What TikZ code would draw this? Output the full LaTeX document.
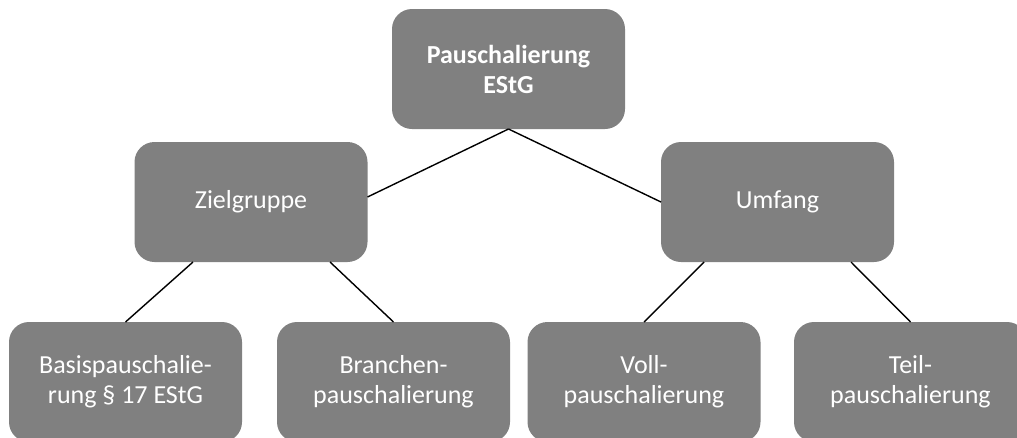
\documentclass[tikz,border=0pt]{standalone}
\usepackage{fontspec}
\setmainfont{Carlito}
\usetikzlibrary{calc}
\definecolor{boxgray}{HTML}{808080}
\begin{document}
\begin{tikzpicture}[x=1pt,y=-1pt,
  box/.style={rectangle, rounded corners=20pt, fill=boxgray, text=white,
    minimum width=233pt, minimum height=120pt, inner sep=0pt, outer sep=0pt,
    align=center, font=\fontsize{26}{30}\selectfont},
  conn/.style={draw=black, line width=1.4pt}]
\useasboundingbox (0,0) rectangle (1017,437);
\node[box, font=\fontsize{26}{30}\selectfont\bfseries] (top) at (508.5,69) {Pauschalierung\\EStG};
\node[box] (zg) at (251,202) {Zielgruppe};
\node[box] (um) at (777.5,202) {Umfang};
\node[box] (basis) at (125.5,382) {Basispauschalie-\\rung § 17 EStG};
\node[box] (branchen) at (393.5,382) {Branchen-\\pauschalierung};
\node[box] (voll) at (644,382) {Voll-\\pauschalierung};
\node[box] (teil) at (910.5,382) {Teil-\\pauschalierung};
\draw[conn] (top.south) -- ($(zg.east)+(0,-5)$);
\draw[conn] (top.south) -- (um.west);
\draw[conn] ($(zg.south)+(-58,0)$) -- (basis.north);
\draw[conn] ($(zg.south)+(79,0)$) -- (branchen.north);
\draw[conn] ($(um.south)+(-73.5,0)$) -- (voll.north);
\draw[conn] ($(um.south)+(73.5,0)$) -- (teil.north);
\end{tikzpicture}
\end{document}
